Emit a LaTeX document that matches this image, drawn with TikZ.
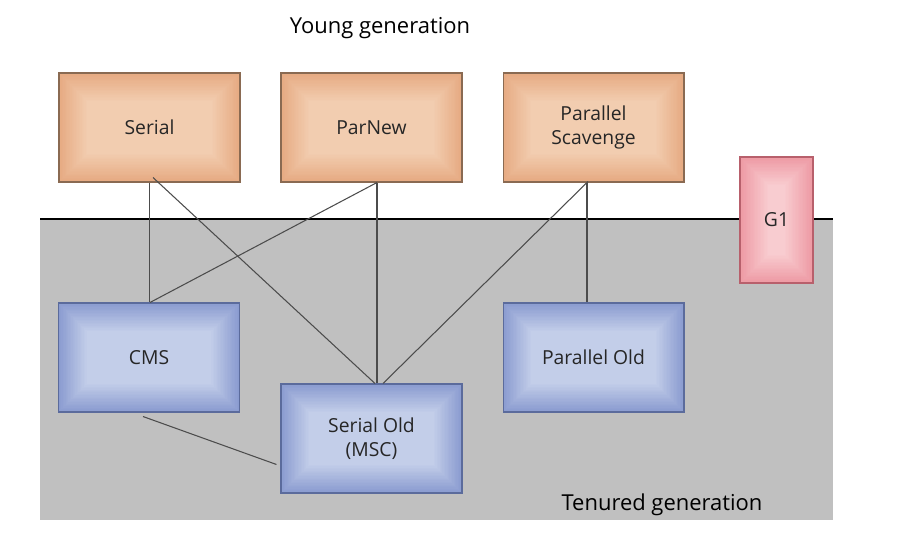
\documentclass[tikz,border=0pt]{standalone}
\usepackage{fontspec}
\setmainfont{Open Sans}
\usetikzlibrary{calc}

\definecolor{youngedge}{HTML}{E6AA82}
\definecolor{youngmid}{HTML}{F2CDB0}
\definecolor{youngline}{HTML}{8A6A52}
\definecolor{oldedge}{HTML}{8A9BD0}
\definecolor{oldmid}{HTML}{C3CEE9}
\definecolor{oldline}{HTML}{5B6B9C}
\definecolor{gedge}{HTML}{EE9AA4}
\definecolor{gmid}{HTML}{F8CCD0}
\definecolor{gline}{HTML}{B8606C}
\definecolor{tenured}{HTML}{C0C0C0}

\tikzset{
  glowbox/.style n args={3}{draw=#3, line width=0.6pt, fill=#1,
    path picture={\foreach \i in {1,...,20}{\pgfmathtruncatemacro{\p}{\i*5}
      \fill[#2!\p!#1] ([shift={(\i*0.8pt,\i*0.8pt)}]path picture bounding box.south west)
        rectangle ([shift={(-\i*0.8pt,-\i*0.8pt)}]path picture bounding box.north east);}}},
  gc/.style={minimum width=3.62cm, minimum height=2.18cm, align=center,
    font=\fontsize{11}{14}\selectfont, text=black!85},
  young/.style={gc, glowbox={youngedge}{youngmid}{youngline}},
  old/.style={gc, glowbox={oldedge}{oldmid}{oldline}},
  link/.style={draw=black!70, line width=0.6pt},
}

\begin{document}
\begin{tikzpicture}[x=0.02cm, y=-0.02cm]
    \useasboundingbox (0,0) rectangle (898,540);

    % Tenured area
    \fill[tenured] (40,219) rectangle (833,520);
    \draw[black, line width=0.7pt] (40,219) -- (833,219);

    % Titles
    \node[font=\fontsize{12.5}{15}\selectfont] (youngtitle) at (380,28) {Young generation};
    \node[font=\fontsize{12.5}{15}\selectfont] (oldtitle) at (662,505) {Tenured generation};

    % Young collectors
    \node[young] (serial) at (149.5,127.5) {Serial};
    \node[young] (parnew) at (371.5,127.5) {ParNew};
    \node[young] (scavenge) at (593.5,127.5) {Parallel\\Scavenge};

    % G1 spans both
    \node[gc, minimum width=1.46cm, minimum height=2.52cm, glowbox={gedge}{gmid}{gline}]
      (gone) at (776.5,220) {G1};

    % Tenured collectors
    \node[old] (cms) at (149,357.5) {CMS};
    \node[old] (serialold) at (371.5,438.5) {Serial Old\\(MSC)};
    \node[old] (parold) at (593.5,357.5) {Parallel Old};

    % Which young collector works with which old one
    \draw[link] (serial.south) -- (serial.south |- cms.north);
    \draw[link] ($(serial.south)+(3.5,-5)$) -- ($(serialold.north)+(3.5,0)$);
    \draw[link] ($(parnew.south)+(5.5,0)$) -- ($(serialold.north)+(5.5,0)$);
    \draw[link] ($(parnew.south)+(5.5,0)$) -- ($(cms.north)+(1,0)$);
    \draw[link] ($(scavenge.south)+(-6.5,0)$) -- ($(parold.north)+(-6.5,0)$);
    \draw[link] ($(scavenge.south)+(-5.5,-1)$) -- ($(serialold.north)+(11.5,0)$);
    \draw[link] ($(cms.south)+(-6,4)$) -- ($(serialold.west)+(-4,26)$);
\end{tikzpicture}
\end{document}
